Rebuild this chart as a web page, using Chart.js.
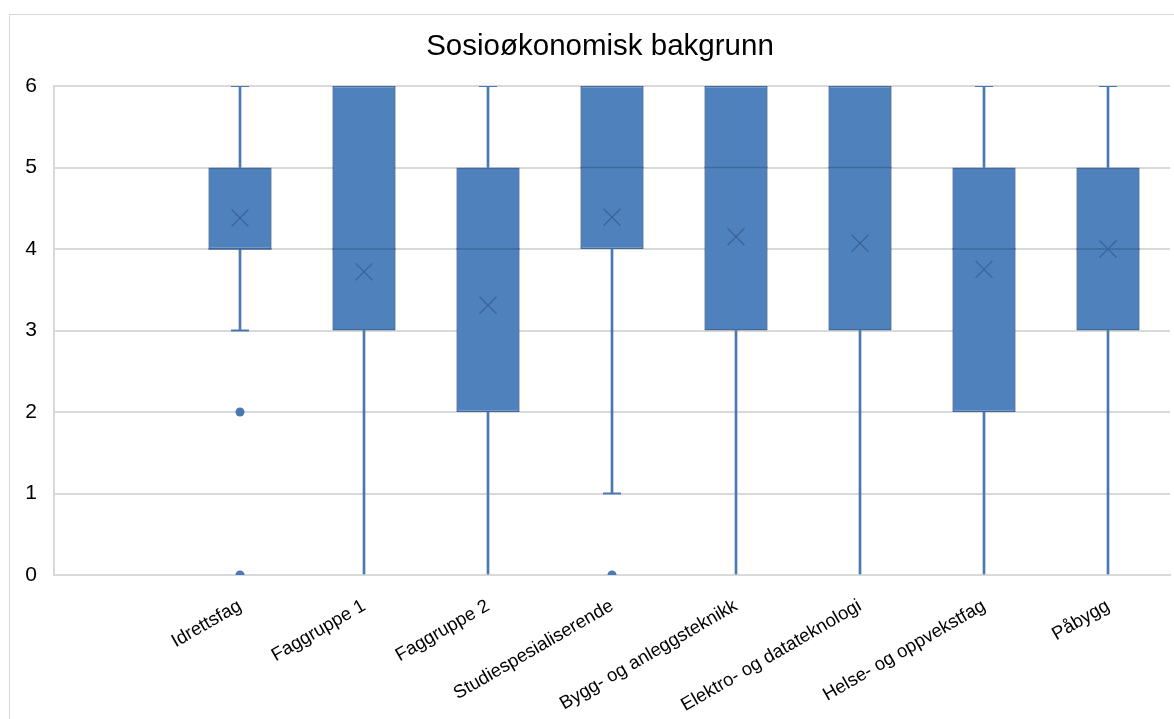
<!DOCTYPE html>
<html>
<head>
<meta charset="utf-8">
<script src="https://cdn.jsdelivr.net/npm/chart.js@4/dist/chart.umd.min.js"></script>
<style>
  html, body { margin: 0; padding: 0; background: #fff; overflow: hidden; }
  #frame { position: absolute; left: 9px; top: 14px; width: 1200px; height: 760px; border: 1px solid #d9d9d9; box-sizing: border-box; }
  #c { position: absolute; left: 0; top: 0; }
</style>
</head>
<body>
<div id="frame"></div>
<canvas id="c" width="1200" height="719"></canvas>
<script>
// Categories (first slot is left blank on the axis)
const categories = ['', 'Idrettsfag', 'Faggruppe 1', 'Faggruppe 2', 'Studiespesialiserende',
  'Bygg- og anleggsteknikk', 'Elektro- og datateknologi', 'Helse- og oppvekstfag', 'Påbygg'];

// Five-number summaries per category
const minimum  = [null, 3, 0, 0, 1, 0, 0, 0, 0];
const quartil1 = [null, 4, 3, 2, 4, 3, 3, 2, 3];
const median   = [null, 4, 4, 4, 5, 5, 5, 4, 4];
const quartil3 = [null, 5, 6, 5, 6, 6, 6, 5, 5];
const maximum  = [null, 6, 6, 6, 6, 6, 6, 6, 6];
const mean     = [null, 4.38, 3.72, 3.31, 4.39, 4.15, 4.07, 3.75, 4.0];

// Outlying observations: [category, value]
const outliers = [['Idrettsfag', 2], ['Idrettsfag', 0], ['Studiespesialiserende', 0]];

// Y-axis tick values
const yTicks = [0, 1, 2, 3, 4, 5, 6];

const boxFill = '#4F81BD';
const boxEdge = '#41699C';
const whiskerColor = '#4A78B3';
const font = "'Liberation Sans', Arial, sans-serif";

const boxes = quartil1.map((q, i) => q === null ? null : [q, quartil3[i]]);
const lowerWhiskers = minimum.map((m, i) => (m === null || m >= quartil1[i]) ? null : [m, quartil1[i]]);
const upperWhiskers = maximum.map((m, i) => (m === null || m <= quartil3[i]) ? null : [quartil3[i], m]);
// caps only where a whisker ends above the axis floor
const topCaps = maximum.map((m, i) => (m === null || m <= quartil3[i]) ? null : m);
const bottomCaps = minimum.map((m, i) => (m === null || m >= quartil1[i] || m === yTicks[0]) ? null : m);

const ctx = document.getElementById('c').getContext('2d');
new Chart(ctx, {
  data: {
    labels: categories,
    datasets: [
      { type: 'bar', label: 'box', data: boxes, backgroundColor: boxFill, borderColor: boxEdge,
        borderWidth: 1.5, borderSkipped: false, grouped: false, barPercentage: 0.51, categoryPercentage: 1, order: 5 },
      { type: 'bar', label: 'lower', data: lowerWhiskers, backgroundColor: whiskerColor,
        barThickness: 2, grouped: false, order: 8 },
      { type: 'bar', label: 'upper', data: upperWhiskers, backgroundColor: whiskerColor,
        barThickness: 2, grouped: false, order: 8 },
      { type: 'line', label: 'capTop', data: topCaps, showLine: false, pointStyle: 'line',
        pointRadius: 9, pointBorderWidth: 2, pointBorderColor: whiskerColor, order: 7 },
      { type: 'line', label: 'capBottom', data: bottomCaps, showLine: false, pointStyle: 'line',
        pointRadius: 9, pointBorderWidth: 2, pointBorderColor: whiskerColor, order: 7 },
      { type: 'line', label: 'median', data: median, showLine: false, pointStyle: 'line',
        pointRadius: 31.5, pointBorderWidth: 1.5, pointBorderColor: boxEdge, order: 3 },
      { type: 'line', label: 'mean', data: mean, showLine: false, pointStyle: 'crossRot',
        pointRadius: 12, pointBorderWidth: 1.3, pointBorderColor: '#3B659A', order: 2 },
      { type: 'line', label: 'outliers', data: outliers.map(([c, v]) => ({ x: c, y: v })), showLine: false,
        pointStyle: 'circle', pointRadius: 4.5, pointBackgroundColor: whiskerColor,
        pointBorderColor: whiskerColor, pointBorderWidth: 0, order: 1 }
    ]
  },
  options: {
    responsive: false,
    animation: false,
    events: [],
    layout: { autoPadding: false, padding: 0 },
    plugins: {
      legend: { display: false },
      tooltip: { enabled: false },
      title: {
        display: true,
        text: 'Sosioøkonomisk bakgrunn',
        color: '#000',
        font: { family: font, size: 29.5, weight: 'normal' },
        padding: { top: 29, bottom: 21.6 }
      }
    },
    scales: {
      x: {
        type: 'category',
        grid: { display: false },
        border: { display: true, color: '#d9d9d9', width: 2 },
        ticks: {
          autoSkip: false, minRotation: 30, maxRotation: 30, padding: 12,
          color: '#000', font: { family: font, size: 18.5 }
        },
        afterFit(scale) {
          scale.height = 144;
          scale.paddingLeft = 0;
          scale.paddingRight = 30;
        }
      },
      y: {
        min: 0, max: 6,
        afterBuildTicks(scale) { scale.ticks = yTicks.map(v => ({ value: v })); },
        grid: { color: '#d9d9d9', lineWidth: 2, drawTicks: false },
        border: { display: true, color: '#d9d9d9', width: 2 },
        ticks: { padding: 17, color: '#000', font: { family: font, size: 21 } },
        afterFit(scale) {
          scale.width = 54;
          scale.paddingTop = 0;
          scale.paddingBottom = 0;
        }
      }
    }
  }
});
</script>
</body>
</html>
